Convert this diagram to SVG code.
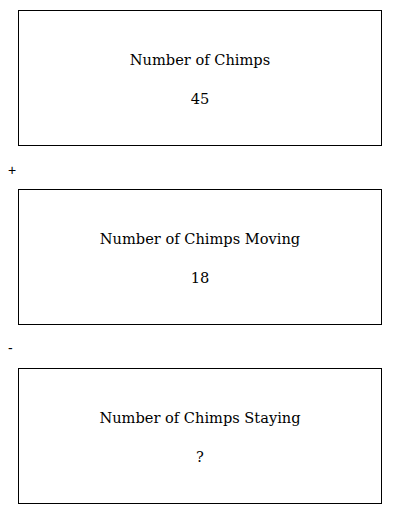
<svg xmlns="http://www.w3.org/2000/svg" width="400" height="514" viewBox="0 0 400 514">
<style>
.box{fill:#fff;stroke:#000;stroke-width:1}
.t{font-family:"DejaVu Serif",serif;font-size:14.6px;fill:#000;text-anchor:middle}
.op{font-family:"Liberation Sans",sans-serif;font-size:14px;fill:#000}
</style>
<rect width="400" height="514" fill="#fff"/>
<g id="node1">
<rect class="box" x="18.5" y="10.5" width="363" height="135"/>
<text class="t" x="200" y="65">Number of Chimps</text>
<text class="t" x="200" y="104">45</text>
</g>
<g id="op-plus"><text class="op" x="8" y="175">+</text></g>
<g id="node2">
<rect class="box" x="18.5" y="189.5" width="363" height="135"/>
<text class="t" x="200" y="244">Number of Chimps Moving</text>
<text class="t" x="200" y="283">18</text>
</g>
<g id="op-minus"><text class="op" x="8" y="353">-</text></g>
<g id="node3">
<rect class="box" x="18.5" y="368.5" width="363" height="135"/>
<text class="t" x="200" y="423">Number of Chimps Staying</text>
<text class="t" x="200" y="462">?</text>
</g>
<g id="connectors"/>
</svg>
